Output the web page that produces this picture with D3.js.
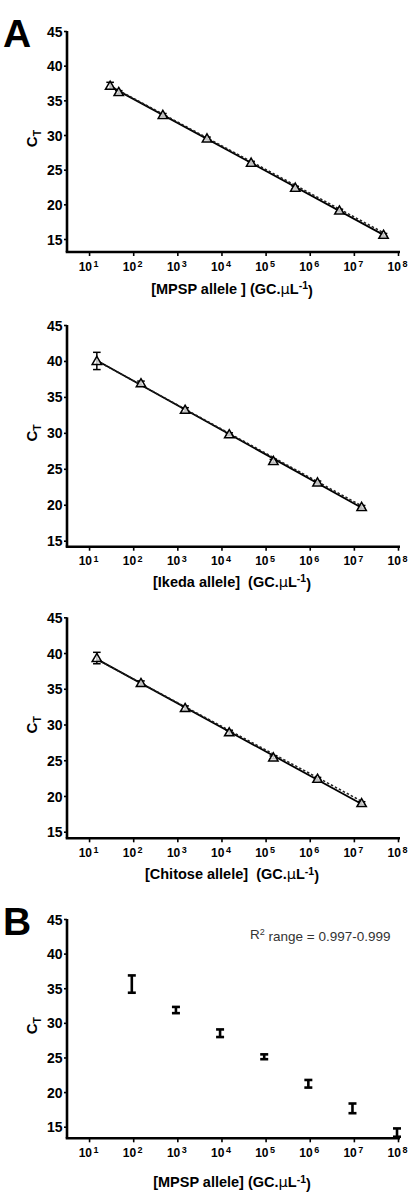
<!DOCTYPE html>
<html>
<head>
<meta charset="utf-8">
<script src="https://cdn.jsdelivr.net/npm/d3@7/dist/d3.min.js"></script>
<style>
  html, body { margin: 0; padding: 0; background: #fff; }
  svg { display: block; font-family: "Liberation Sans", Arial, sans-serif; }
  text { white-space: pre; }
</style>
</head>
<body>
<svg id="fig" width="418" height="1192"></svg>
<script>
// ---- data ----
var yTicks = [15, 20, 25, 30, 35, 40, 45];
var xTickExps = [1, 2, 3, 4, 5, 6, 7, 8];

// A, MPSP allele standard curve
var mpspX = [30, 47, 470, 4.7e3, 4.7e4, 4.7e5, 4.7e6, 4.7e7];
var mpspTri = [37.1, 36.2, 32.9, 29.5, 26.0, 22.4, 19.1, 15.6];
var mpspTriErr = [0.5, 0.2, 0.2, 0.2, 0.2, 0.2, 0.2, 0.2];
var mpspCross = [36.9, 36.3, 32.8, 29.4, 26.1, 22.5, 19.2, 15.7];

// A, Ikeda allele
var ikedaX = [15, 150, 1.5e3, 1.5e4, 1.5e5, 1.5e6, 1.5e7];
var ikedaTri = [40.0, 36.9, 33.2, 29.8, 26.1, 23.1, 19.7];
var ikedaTriErr = [1.2, 0.3, 0.3, 0.2, 0.2, 0.2, 0.2];
var ikedaCross = [39.7, 36.5, 33.3, 29.9, 26.3, 23.2, 19.5];

// A, Chitose allele
var chitoseX = [15, 150, 1.5e3, 1.5e4, 1.5e5, 1.5e6, 1.5e7];
var chitoseTri = [39.3, 35.8, 32.3, 28.9, 25.4, 22.4, 19.0];
var chitoseTriErr = [0.8, 0.3, 0.3, 0.3, 0.2, 0.2, 0.2];
var chitoseCross = [38.5, 36.0, 32.5, 29.1, 25.6, 22.4, 19.0];

// B, MPSP allele (mean, sd)
var bX = [93, 930, 9.3e3, 9.3e4, 9.3e5, 9.3e6, 9.5e7];
var bMean = [35.6, 31.85, 28.5, 25.1, 21.2, 17.65, 14.15];
var bSd = [1.25, 0.45, 0.55, 0.35, 0.55, 0.7, 0.6];

var panels = [
  { letter: 'A', title: '[MPSP allele ] (GC.', titleGap: 42, y45: 31, y15: 239, axisY: 252,
    x: mpspX, tri: mpspTri, triErr: mpspTriErr, cross: mpspCross },
  { letter: null, title: '[Ikeda allele]  (GC.', titleGap: 40, y45: 325, y15: 540.7, axisY: 546.7,
    x: ikedaX, tri: ikedaTri, triErr: ikedaTriErr, cross: ikedaCross },
  { letter: null, title: '[Chitose allele]  (GC.', titleGap: 41, y45: 617.3, y15: 831.7, axisY: 838.3,
    x: chitoseX, tri: chitoseTri, triErr: chitoseTriErr, cross: chitoseCross },
  { letter: 'B', title: '[MPSP allele] (GC.', titleGap: 49, y45: 919, y15: 1126.7, axisY: 1138.3,
    x: bX, mean: bMean, sd: bSd, r2: true }
];

var svg = d3.select('#fig');
var left = 67, right = 398;
var x = d3.scaleLog().domain([Math.pow(10, 0.5), 1e8]).range([left, right]);

// least squares in log10(x)
function fit(xs, ys) {
  var lx = xs.map(function (v) { return Math.log10(v); });
  var mx = d3.mean(lx), my = d3.mean(ys), num = 0, den = 0;
  lx.forEach(function (v, i) { num += (v - mx) * (ys[i] - my); den += (v - mx) * (v - mx); });
  var b = num / den, a = my - b * mx;
  return function (v) { return a + b * Math.log10(v); };
}

panels.forEach(function (p) {
  var pxPerUnit = (p.y15 - p.y45) / 30;
  var yMin = 15 - (p.axisY - p.y15) / pxPerUnit;
  var y = d3.scaleLinear().domain([yMin, 45]).range([p.axisY, p.y45]);
  var g = svg.append('g');

  // y axis
  var ya = g.append('g').attr('transform', 'translate(' + left + ',0)')
    .call(d3.axisLeft(y).tickValues(yTicks).tickSize(3).tickSizeOuter(0).tickPadding(1.5));
  ya.select('.domain').attr('stroke-width', 2.6).attr('d', 'M0,' + p.axisY + 'V' + p.y45);
  ya.selectAll('.tick line').attr('stroke-width', 1.6);
  ya.selectAll('text').attr('font-size', 14).attr('font-weight', 'bold').attr('fill', '#000')
    .attr('dy', '0.36em');

  // x axis
  var xa = g.append('g').attr('transform', 'translate(0,' + p.axisY + ')')
    .call(d3.axisBottom(x).tickValues(xTickExps.map(function (e) { return Math.pow(10, e); }))
      .tickSize(4).tickSizeOuter(0).tickFormat(function () { return ''; }));
  xa.select('.domain').attr('stroke-width', 2.6).attr('d', 'M' + (left - 1.3) + ',0H' + (right + 2));
  xa.selectAll('.tick line').attr('stroke-width', 1.6);
  xa.selectAll('.tick text').each(function (d, i) {
    var t = d3.select(this).attr('font-size', 12).attr('font-weight', 'bold').attr('fill', '#000')
      .attr('y', 18.5).attr('dy', 0).attr('dx', '-1');
    t.append('tspan').text('10');
    t.append('tspan').attr('dx', 1.5).attr('dy', '-0.4em').attr('font-size', 9)
      .text(xTickExps[i]);
  });

  // axis titles
  var tt = g.append('text').attr('x', 232).attr('y', p.axisY + p.titleGap)
    .attr('text-anchor', 'middle').attr('font-size', 14.5).attr('font-weight', 'bold');
  tt.append('tspan').text(p.title);
  tt.append('tspan').attr('font-weight', 'normal').attr('font-family', '"DejaVu Sans", sans-serif').text('\u03bc');
  tt.append('tspan').text('L');
  tt.append('tspan').attr('dy', '-0.45em').attr('font-size', 10.5).text('-1');
  tt.append('tspan').attr('dy', '0.45em').text(')');

  var yc = (p.y45 + p.axisY) / 2 - 3;
  var ct = g.append('text').attr('transform', 'translate(37,' + yc + ') rotate(-90)')
    .attr('text-anchor', 'middle').attr('font-size', 15).attr('font-weight', 'bold');
  ct.append('tspan').text('C');
  ct.append('tspan').attr('dy', '0.35em').attr('font-size', 10.5).text('T');

  if (p.letter) {
    g.append('text').attr('x', 3).attr('y', p.y45 + 16).attr('font-size', 39)
      .attr('font-weight', 'bold').text(p.letter);
  }

  if (p.tri) {
    var x0 = d3.min(p.x), x1 = d3.max(p.x);
    var fT = fit(p.x, p.tri), fC = fit(p.x, p.cross);
    g.append('line').attr('x1', x(x0)).attr('x2', x(x1)).attr('y1', y(fT(x0))).attr('y2', y(fT(x1)))
      .attr('stroke', '#000').attr('stroke-width', 1.8);
    g.append('line').attr('x1', x(x0)).attr('x2', x(x1)).attr('y1', y(fC(x0)) - 1.2).attr('y2', y(fC(x1)) - 1.2)
      .attr('stroke', '#222').attr('stroke-width', 1.5).attr('stroke-dasharray', '2.5,2');

    // crosses
    g.append('g').selectAll('path').data(p.cross).join('path')
      .attr('transform', function (d, i) { return 'translate(' + x(p.x[i]) + ',' + y(d) + ')'; })
      .attr('d', d3.symbol(d3.symbolTimes, 36)).attr('fill', '#555');

    // error bars
    var eb = g.append('g').attr('stroke', '#000').attr('stroke-width', 1.5);
    p.tri.forEach(function (v, i) {
      var cx = x(p.x[i]), e = p.triErr[i];
      eb.append('line').attr('x1', cx).attr('x2', cx).attr('y1', y(v - e)).attr('y2', y(v + e));
      [v - e, v + e].forEach(function (w) {
        eb.append('line').attr('x1', cx - 3.8).attr('x2', cx + 3.8).attr('y1', y(w)).attr('y2', y(w));
      });
    });

    // triangles
    g.append('g').selectAll('path').data(p.tri).join('path')
      .attr('transform', function (d, i) { return 'translate(' + x(p.x[i]) + ',' + (y(d) + 0.8) + ')'; })
      .attr('d', d3.symbol(d3.symbolTriangle, 38)).attr('fill', '#fff').attr('fill-opacity', 0.75)
      .attr('stroke', '#000').attr('stroke-width', 1.5);
  } else {
    var bb = g.append('g').attr('stroke', '#000').attr('stroke-width', 2.6);
    p.mean.forEach(function (v, i) {
      var cx = x(p.x[i]), e = p.sd[i];
      bb.append('line').attr('x1', cx).attr('x2', cx).attr('y1', y(v - e)).attr('y2', y(v + e));
      [v - e, v + e].forEach(function (w) {
        bb.append('line').attr('x1', cx - 4).attr('x2', cx + 4).attr('y1', y(w)).attr('y2', y(w))
          .attr('stroke-width', 2.6);
      });
    });
  }

  if (p.r2) {
    var rt = g.append('text').attr('x', 250).attr('y', p.y45 + 20).attr('font-size', 13.5).attr('fill', '#333');
    rt.append('tspan').text('R');
    rt.append('tspan').attr('dy', '-0.45em').attr('font-size', 9).text('2');
    rt.append('tspan').attr('dy', '0.45em').text(' range = 0.997-0.999');
  }
});
</script>
</body>
</html>
